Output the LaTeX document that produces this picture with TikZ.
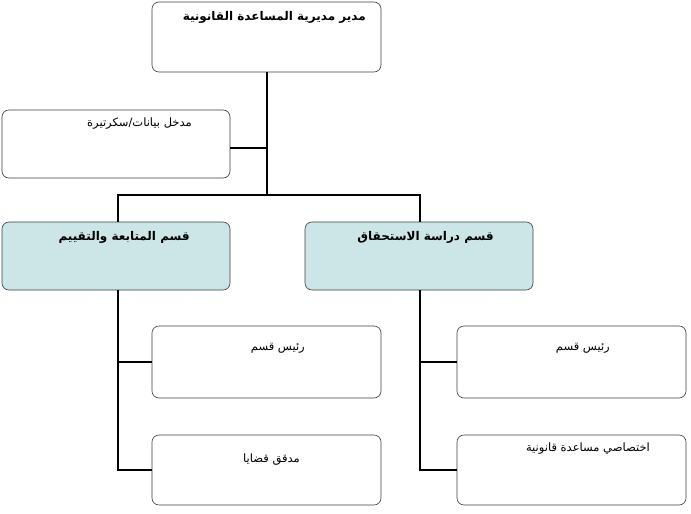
\documentclass[tikz,border=0pt]{standalone}
\usepackage{fontspec}
\TeXXeTstate=1
\newfontfamily\arabicfont[Script=Arabic]{DejaVu Sans}
\definecolor{deptfill}{RGB}{204,230,232}
\begin{document}
\begin{tikzpicture}[x=1pt,y=-1pt,
  box/.style={draw=black!75,rounded corners=7pt,fill=white,line width=0.6pt},
  dept/.style={box,fill=deptfill},
  conn/.style={line width=2.2pt,black},
  txt/.style={anchor=north east,inner sep=0pt,font=\arabicfont\fontsize{11.5}{13}\selectfont},
  btxt/.style={txt,font=\arabicfont\bfseries\fontsize{12}{14}\selectfont}]
\useasboundingbox[fill=white] (0,0) rectangle (691,514);
% boxes
\draw[box] (152,2) rectangle (381,72); \coordinate (top) at (267,72);
\draw[box] (2,110) rectangle (230,178); \coordinate (sec) at (230,148);
\draw[dept] (2,222) rectangle (230,290);
\draw[dept] (305,222) rectangle (533,290);
\draw[box] (152,326) rectangle (381,398);
\draw[box] (152,435) rectangle (381,505);
\draw[box] (457,326) rectangle (686,398);
\draw[box] (457,435) rectangle (686,505);
% texts
\node[btxt] (t1) at (366,11) {\beginR مدير مديرية المساعدة القانونية\endR};
\node[txt] (t2) at (192,118) {\beginR مدخل بيانات/سكرتيرة\endR};
\node[btxt] (t3) at (190,231) {\beginR قسم المتابعة والتقييم\endR};
\node[btxt] (t4) at (494,231) {\beginR قسم دراسة الاستحقاق\endR};
\node[txt] (t5) at (305,343) {\beginR رئيس قسم\endR};
\node[txt] (t6) at (300,454) {\beginR مدقق قضايا\endR};
\node[txt] (t7) at (610,343) {\beginR رئيس قسم\endR};
\node[txt] (t8) at (650,443) {\beginR اختصاصي مساعدة قانونية\endR};
% connectors
\coordinate (j) at (267,195);
\draw[conn] (top) -- (j);
\draw[conn] (sec) -- (267,148);
\draw[conn] (118,222) -- (118,195) -- (420,195) -- (420,222);
\draw[conn] (118,290) -- (118,470) -- (152,470);
\draw[conn] (118,362) -- (152,362);
\draw[conn] (420,290) -- (420,470) -- (457,470);
\draw[conn] (420,362) -- (457,362);
\end{tikzpicture}
\end{document}
